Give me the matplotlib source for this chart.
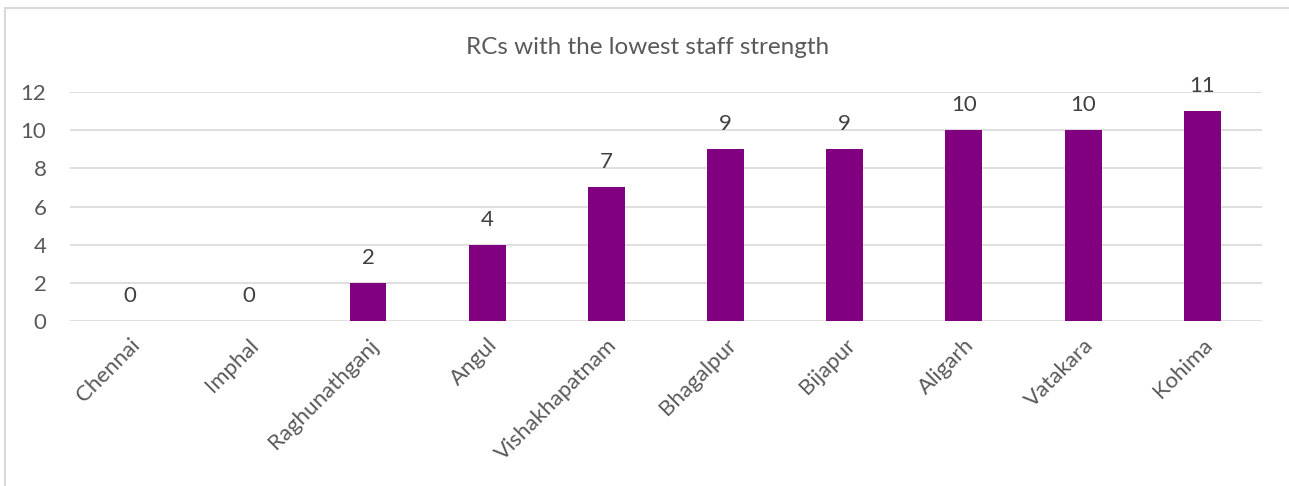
import matplotlib
matplotlib.use("Agg")
import matplotlib.pyplot as plt
from matplotlib.patches import Rectangle

plt.rcParams['font.family'] = ['Lato', 'DejaVu Sans']

# Data
centres = ["Chennai", "Imphal", "Raghunathganj", "Angul", "Vishakhapatnam",
           "Bhagalpur", "Bijapur", "Aligarh", "Vatakara", "Kohima"]
staff = [0, 0, 2, 4, 7, 9, 9, 10, 10, 11]
y_ticks = [0, 2, 4, 6, 8, 10, 12]

bar_color = "#800080"
text_color = "#595959"
grid_color = "#d9d9d9"

fig = plt.figure(figsize=(12.89, 4.86), dpi=100)
ax = fig.add_axes([0.0543, 0.3395, 0.9247, 0.4712])

x = list(range(len(centres)))
ax.bar(x, staff, width=0.31, color=bar_color, zorder=3)

for xi, v in zip(x, staff):
    ax.annotate(str(v), (xi, v), xytext=(0, 18), textcoords="offset points",
                ha="center", va="center", fontsize=16, color="#404040")

ax.set_xlim(-0.5, len(centres) - 0.5)
ax.set_ylim(0, 12)
ax.set_yticks(y_ticks)
ax.set_yticklabels([str(t) for t in y_ticks], fontsize=16, color=text_color)
ax.set_xticks(x)
ax.set_xticklabels(centres, rotation=45, ha="right", rotation_mode="anchor",
                   fontsize=16, color=text_color)
ax.tick_params(axis="both", length=0)
ax.tick_params(axis="y", pad=17)
ax.tick_params(axis="x", pad=10)
ax.yaxis.grid(True, color=grid_color, linewidth=1.2, zorder=0)
for s in ax.spines.values():
    s.set_visible(False)

fig.text(0.502, 0.903, "RCs with the lowest staff strength", ha="center",
         va="center", fontsize=17.5, color=text_color)

# chart frame (only left and top edges visible in the screenshot)
fig.add_artist(Rectangle((5 / 1289, -0.1), 1.2, 1 - 8 / 486 + 0.1,
                         transform=fig.transFigure, fill=False,
                         edgecolor="#d9d9d9", linewidth=1.5))

fig.savefig("out.png", dpi=100, facecolor="white")
